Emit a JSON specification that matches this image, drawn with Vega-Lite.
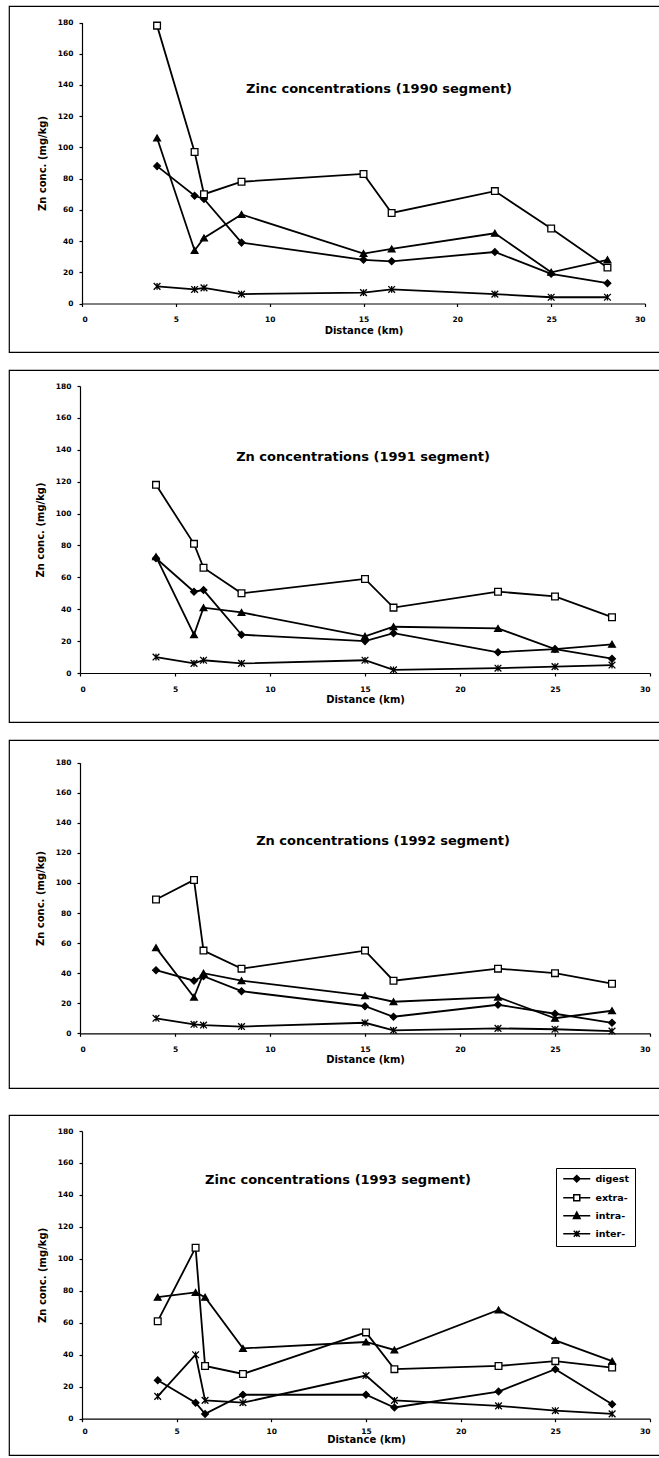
{
  "$schema": "https://vega.github.io/schema/vega-lite/v6.json",
  "background": "white",
  "padding": {"left": 8, "top": 5, "right": 0, "bottom": 0},
  "data": {
    "values": [
      {"year": 1990, "series": "digest", "distance": 4, "zn": 88},
      {"year": 1990, "series": "digest", "distance": 6, "zn": 69},
      {"year": 1990, "series": "digest", "distance": 6.5, "zn": 67},
      {"year": 1990, "series": "digest", "distance": 8.5, "zn": 39},
      {"year": 1990, "series": "digest", "distance": 15, "zn": 28},
      {"year": 1990, "series": "digest", "distance": 16.5, "zn": 27},
      {"year": 1990, "series": "digest", "distance": 22, "zn": 33},
      {"year": 1990, "series": "digest", "distance": 25, "zn": 19},
      {"year": 1990, "series": "digest", "distance": 28, "zn": 13},
      {"year": 1990, "series": "extra-", "distance": 4, "zn": 178},
      {"year": 1990, "series": "extra-", "distance": 6, "zn": 97},
      {"year": 1990, "series": "extra-", "distance": 6.5, "zn": 70},
      {"year": 1990, "series": "extra-", "distance": 8.5, "zn": 78},
      {"year": 1990, "series": "extra-", "distance": 15, "zn": 83},
      {"year": 1990, "series": "extra-", "distance": 16.5, "zn": 58},
      {"year": 1990, "series": "extra-", "distance": 22, "zn": 72},
      {"year": 1990, "series": "extra-", "distance": 25, "zn": 48},
      {"year": 1990, "series": "extra-", "distance": 28, "zn": 23},
      {"year": 1990, "series": "intra-", "distance": 4, "zn": 106},
      {"year": 1990, "series": "intra-", "distance": 6, "zn": 34},
      {"year": 1990, "series": "intra-", "distance": 6.5, "zn": 42},
      {"year": 1990, "series": "intra-", "distance": 8.5, "zn": 57},
      {"year": 1990, "series": "intra-", "distance": 15, "zn": 32},
      {"year": 1990, "series": "intra-", "distance": 16.5, "zn": 35},
      {"year": 1990, "series": "intra-", "distance": 22, "zn": 45},
      {"year": 1990, "series": "intra-", "distance": 25, "zn": 20},
      {"year": 1990, "series": "intra-", "distance": 28, "zn": 28},
      {"year": 1990, "series": "inter-", "distance": 4, "zn": 11},
      {"year": 1990, "series": "inter-", "distance": 6, "zn": 9},
      {"year": 1990, "series": "inter-", "distance": 6.5, "zn": 10},
      {"year": 1990, "series": "inter-", "distance": 8.5, "zn": 6},
      {"year": 1990, "series": "inter-", "distance": 15, "zn": 7},
      {"year": 1990, "series": "inter-", "distance": 16.5, "zn": 9},
      {"year": 1990, "series": "inter-", "distance": 22, "zn": 6},
      {"year": 1990, "series": "inter-", "distance": 25, "zn": 4},
      {"year": 1990, "series": "inter-", "distance": 28, "zn": 4},

      {"year": 1991, "series": "digest", "distance": 4, "zn": 72},
      {"year": 1991, "series": "digest", "distance": 6, "zn": 51},
      {"year": 1991, "series": "digest", "distance": 6.5, "zn": 52},
      {"year": 1991, "series": "digest", "distance": 8.5, "zn": 24},
      {"year": 1991, "series": "digest", "distance": 15, "zn": 20},
      {"year": 1991, "series": "digest", "distance": 16.5, "zn": 25},
      {"year": 1991, "series": "digest", "distance": 22, "zn": 13},
      {"year": 1991, "series": "digest", "distance": 25, "zn": 15},
      {"year": 1991, "series": "digest", "distance": 28, "zn": 9},
      {"year": 1991, "series": "extra-", "distance": 4, "zn": 118},
      {"year": 1991, "series": "extra-", "distance": 6, "zn": 81},
      {"year": 1991, "series": "extra-", "distance": 6.5, "zn": 66},
      {"year": 1991, "series": "extra-", "distance": 8.5, "zn": 50},
      {"year": 1991, "series": "extra-", "distance": 15, "zn": 59},
      {"year": 1991, "series": "extra-", "distance": 16.5, "zn": 41},
      {"year": 1991, "series": "extra-", "distance": 22, "zn": 51},
      {"year": 1991, "series": "extra-", "distance": 25, "zn": 48},
      {"year": 1991, "series": "extra-", "distance": 28, "zn": 35},
      {"year": 1991, "series": "intra-", "distance": 4, "zn": 73},
      {"year": 1991, "series": "intra-", "distance": 6, "zn": 24},
      {"year": 1991, "series": "intra-", "distance": 6.5, "zn": 41},
      {"year": 1991, "series": "intra-", "distance": 8.5, "zn": 38},
      {"year": 1991, "series": "intra-", "distance": 15, "zn": 23},
      {"year": 1991, "series": "intra-", "distance": 16.5, "zn": 29},
      {"year": 1991, "series": "intra-", "distance": 22, "zn": 28},
      {"year": 1991, "series": "intra-", "distance": 25, "zn": 15},
      {"year": 1991, "series": "intra-", "distance": 28, "zn": 18},
      {"year": 1991, "series": "inter-", "distance": 4, "zn": 10},
      {"year": 1991, "series": "inter-", "distance": 6, "zn": 6},
      {"year": 1991, "series": "inter-", "distance": 6.5, "zn": 8},
      {"year": 1991, "series": "inter-", "distance": 8.5, "zn": 6},
      {"year": 1991, "series": "inter-", "distance": 15, "zn": 8},
      {"year": 1991, "series": "inter-", "distance": 16.5, "zn": 2},
      {"year": 1991, "series": "inter-", "distance": 22, "zn": 3},
      {"year": 1991, "series": "inter-", "distance": 25, "zn": 4},
      {"year": 1991, "series": "inter-", "distance": 28, "zn": 5},

      {"year": 1992, "series": "digest", "distance": 4, "zn": 42},
      {"year": 1992, "series": "digest", "distance": 6, "zn": 35},
      {"year": 1992, "series": "digest", "distance": 6.5, "zn": 38},
      {"year": 1992, "series": "digest", "distance": 8.5, "zn": 28},
      {"year": 1992, "series": "digest", "distance": 15, "zn": 18},
      {"year": 1992, "series": "digest", "distance": 16.5, "zn": 11},
      {"year": 1992, "series": "digest", "distance": 22, "zn": 19},
      {"year": 1992, "series": "digest", "distance": 25, "zn": 13},
      {"year": 1992, "series": "digest", "distance": 28, "zn": 7},
      {"year": 1992, "series": "extra-", "distance": 4, "zn": 89},
      {"year": 1992, "series": "extra-", "distance": 6, "zn": 102},
      {"year": 1992, "series": "extra-", "distance": 6.5, "zn": 55},
      {"year": 1992, "series": "extra-", "distance": 8.5, "zn": 43},
      {"year": 1992, "series": "extra-", "distance": 15, "zn": 55},
      {"year": 1992, "series": "extra-", "distance": 16.5, "zn": 35},
      {"year": 1992, "series": "extra-", "distance": 22, "zn": 43},
      {"year": 1992, "series": "extra-", "distance": 25, "zn": 40},
      {"year": 1992, "series": "extra-", "distance": 28, "zn": 33},
      {"year": 1992, "series": "intra-", "distance": 4, "zn": 57},
      {"year": 1992, "series": "intra-", "distance": 6, "zn": 24},
      {"year": 1992, "series": "intra-", "distance": 6.5, "zn": 40},
      {"year": 1992, "series": "intra-", "distance": 8.5, "zn": 35},
      {"year": 1992, "series": "intra-", "distance": 15, "zn": 25},
      {"year": 1992, "series": "intra-", "distance": 16.5, "zn": 21},
      {"year": 1992, "series": "intra-", "distance": 22, "zn": 24},
      {"year": 1992, "series": "intra-", "distance": 25, "zn": 10},
      {"year": 1992, "series": "intra-", "distance": 28, "zn": 15},
      {"year": 1992, "series": "inter-", "distance": 4, "zn": 10},
      {"year": 1992, "series": "inter-", "distance": 6, "zn": 6},
      {"year": 1992, "series": "inter-", "distance": 6.5, "zn": 5.5},
      {"year": 1992, "series": "inter-", "distance": 8.5, "zn": 4.5},
      {"year": 1992, "series": "inter-", "distance": 15, "zn": 7},
      {"year": 1992, "series": "inter-", "distance": 16.5, "zn": 2},
      {"year": 1992, "series": "inter-", "distance": 22, "zn": 3.3},
      {"year": 1992, "series": "inter-", "distance": 25, "zn": 2.7},
      {"year": 1992, "series": "inter-", "distance": 28, "zn": 1.5},

      {"year": 1993, "series": "digest", "distance": 4, "zn": 24},
      {"year": 1993, "series": "digest", "distance": 6, "zn": 10},
      {"year": 1993, "series": "digest", "distance": 6.5, "zn": 3},
      {"year": 1993, "series": "digest", "distance": 8.5, "zn": 15},
      {"year": 1993, "series": "digest", "distance": 15, "zn": 15},
      {"year": 1993, "series": "digest", "distance": 16.5, "zn": 7},
      {"year": 1993, "series": "digest", "distance": 22, "zn": 17},
      {"year": 1993, "series": "digest", "distance": 25, "zn": 31},
      {"year": 1993, "series": "digest", "distance": 28, "zn": 9},
      {"year": 1993, "series": "extra-", "distance": 4, "zn": 61},
      {"year": 1993, "series": "extra-", "distance": 6, "zn": 107},
      {"year": 1993, "series": "extra-", "distance": 6.5, "zn": 33},
      {"year": 1993, "series": "extra-", "distance": 8.5, "zn": 28},
      {"year": 1993, "series": "extra-", "distance": 15, "zn": 54},
      {"year": 1993, "series": "extra-", "distance": 16.5, "zn": 31},
      {"year": 1993, "series": "extra-", "distance": 22, "zn": 33},
      {"year": 1993, "series": "extra-", "distance": 25, "zn": 36},
      {"year": 1993, "series": "extra-", "distance": 28, "zn": 32},
      {"year": 1993, "series": "intra-", "distance": 4, "zn": 76},
      {"year": 1993, "series": "intra-", "distance": 6, "zn": 79},
      {"year": 1993, "series": "intra-", "distance": 6.5, "zn": 76},
      {"year": 1993, "series": "intra-", "distance": 8.5, "zn": 44},
      {"year": 1993, "series": "intra-", "distance": 15, "zn": 48},
      {"year": 1993, "series": "intra-", "distance": 16.5, "zn": 43},
      {"year": 1993, "series": "intra-", "distance": 22, "zn": 68},
      {"year": 1993, "series": "intra-", "distance": 25, "zn": 49},
      {"year": 1993, "series": "intra-", "distance": 28, "zn": 36},
      {"year": 1993, "series": "inter-", "distance": 4, "zn": 14},
      {"year": 1993, "series": "inter-", "distance": 6, "zn": 40},
      {"year": 1993, "series": "inter-", "distance": 6.5, "zn": 11.5},
      {"year": 1993, "series": "inter-", "distance": 8.5, "zn": 10},
      {"year": 1993, "series": "inter-", "distance": 15, "zn": 27},
      {"year": 1993, "series": "inter-", "distance": 16.5, "zn": 11.5},
      {"year": 1993, "series": "inter-", "distance": 22, "zn": 8},
      {"year": 1993, "series": "inter-", "distance": 25, "zn": 5},
      {"year": 1993, "series": "inter-", "distance": 28, "zn": 3}
    ]
  },
  "spacing": 25,
  "resolve": {
    "scale": {"shape": "independent", "color": "independent"},
    "legend": {"shape": "independent", "color": "independent"}
  },
  "vconcat": [
    {
      "spacing": 16,
      "resolve": {
        "scale": {"shape": "independent", "color": "independent"},
        "legend": {"shape": "independent", "color": "independent"}
      },
      "vconcat": [
        {
          "width": 652,
          "height": 346,
          "title": {"text": "Zinc concentrations (1990 segment)", "offset": -90, "dx": 44},
          "transform": [{"filter": "datum.year === 1990"}],
          "encoding": {
            "x": {"field": "distance", "type": "quantitative",
              "scale": {"domain": [0, 30], "range": [73, 636], "nice": false, "zero": false},
              "axis": {"title": "Distance (km)", "offset": -48.5, "values": [0, 5, 10, 15, 20, 25, 30], "labelPadding": 9, "titlePadding": 2}},
            "y": {"field": "zn", "type": "quantitative",
              "scale": {"domain": [0, 180], "range": [297.5, 16.5], "nice": false, "zero": false},
              "axis": {"title": "Zn conc. (mg/kg)", "offset": -73, "values": [0, 20, 40, 60, 80, 100, 120, 140, 160, 180]}}
          },
          "layer": [
            {"mark": {"type": "line", "color": "black", "strokeWidth": 1.8}, "encoding": {"detail": {"field": "series"}}},
            {"mark": {"type": "point", "filled": true, "opacity": 1, "size": 45, "stroke": "black", "strokeWidth": 1.3},
              "encoding": {
                "shape": {"field": "series", "type": "nominal", "legend": null,
                  "scale": {"range": ["diamond", "square", "M-1,-1L1,1M-1,1L1,-1M0,-1L0,1", "triangle-up"]}},
                "color": {"field": "series", "type": "nominal", "legend": null,
                  "scale": {"domain": ["digest", "extra-", "intra-", "inter-"], "range": ["black", "white", "black", "transparent"]}}
              }}
          ]
        },
        {
          "width": 652,
          "height": 352,
          "title": {"text": "Zn concentrations (1991 segment)", "offset": -94, "dx": 28},
          "transform": [{"filter": "datum.year === 1991"}],
          "encoding": {
            "x": {"field": "distance", "type": "quantitative",
              "scale": {"domain": [0, 30], "range": [71, 641], "nice": false, "zero": false},
              "axis": {"title": "Distance (km)", "offset": -49, "values": [0, 5, 10, 15, 20, 25, 30], "labelPadding": 9, "titlePadding": 2}},
            "y": {"field": "zn", "type": "quantitative",
              "scale": {"domain": [0, 180], "range": [303, 16], "nice": false, "zero": false},
              "axis": {"title": "Zn conc. (mg/kg)", "offset": -71, "values": [0, 20, 40, 60, 80, 100, 120, 140, 160, 180]}}
          },
          "layer": [
            {"mark": {"type": "line", "color": "black", "strokeWidth": 1.8}, "encoding": {"detail": {"field": "series"}}},
            {"mark": {"type": "point", "filled": true, "opacity": 1, "size": 45, "stroke": "black", "strokeWidth": 1.3},
              "encoding": {
                "shape": {"field": "series", "type": "nominal", "legend": null,
                  "scale": {"range": ["diamond", "square", "M-1,-1L1,1M-1,1L1,-1M0,-1L0,1", "triangle-up"]}},
                "color": {"field": "series", "type": "nominal", "legend": null,
                  "scale": {"domain": ["digest", "extra-", "intra-", "inter-"], "range": ["black", "white", "black", "transparent"]}}
              }}
          ]
        },
        {
          "width": 652,
          "height": 348,
          "title": {"text": "Zn concentrations (1992 segment)", "offset": -108, "dx": 48},
          "transform": [{"filter": "datum.year === 1992"}],
          "encoding": {
            "x": {"field": "distance", "type": "quantitative",
              "scale": {"domain": [0, 30], "range": [71, 641], "nice": false, "zero": false},
              "axis": {"title": "Distance (km)", "offset": -54.7, "values": [0, 5, 10, 15, 20, 25, 30], "labelPadding": 9, "titlePadding": 2}},
            "y": {"field": "zn", "type": "quantitative",
              "scale": {"domain": [0, 180], "range": [293.3, 22.7], "nice": false, "zero": false},
              "axis": {"title": "Zn conc. (mg/kg)", "offset": -71, "values": [0, 20, 40, 60, 80, 100, 120, 140, 160, 180]}}
          },
          "layer": [
            {"mark": {"type": "line", "color": "black", "strokeWidth": 1.8}, "encoding": {"detail": {"field": "series"}}},
            {"mark": {"type": "point", "filled": true, "opacity": 1, "size": 45, "stroke": "black", "strokeWidth": 1.3},
              "encoding": {
                "shape": {"field": "series", "type": "nominal", "legend": null,
                  "scale": {"range": ["diamond", "square", "M-1,-1L1,1M-1,1L1,-1M0,-1L0,1", "triangle-up"]}},
                "color": {"field": "series", "type": "nominal", "legend": null,
                  "scale": {"domain": ["digest", "extra-", "intra-", "inter-"], "range": ["black", "white", "black", "transparent"]}}
              }}
          ]
        }
      ]
    },
    {
      "width": 652,
      "height": 340,
      "title": {"text": "Zinc concentrations (1993 segment)", "offset": -72, "dx": 3},
      "transform": [{"filter": "datum.year === 1993"}],
      "encoding": {
        "x": {"field": "distance", "type": "quantitative",
          "scale": {"domain": [0, 30], "range": [73, 641], "nice": false, "zero": false},
          "axis": {"title": "Distance (km)", "offset": -36.3, "values": [0, 5, 10, 15, 20, 25, 30], "labelPadding": 5.5, "titlePadding": 0}},
        "y": {"field": "zn", "type": "quantitative",
          "scale": {"domain": [0, 180], "range": [303.7, 16], "nice": false, "zero": false},
          "axis": {"title": "Zn conc. (mg/kg)", "offset": -73, "values": [0, 20, 40, 60, 80, 100, 120, 140, 160, 180]}}
      },
      "layer": [
        {"mark": {"type": "line", "color": "black", "strokeWidth": 1.8}, "encoding": {"detail": {"field": "series"}}},
        {"mark": {"type": "point", "filled": true, "opacity": 1, "size": 45, "stroke": "black", "strokeWidth": 1.3},
          "encoding": {
            "shape": {"field": "series", "type": "nominal", "legend": null,
              "scale": {"range": ["diamond", "square", "M-1,-1L1,1M-1,1L1,-1M0,-1L0,1", "triangle-up"]}},
            "color": {"field": "series", "type": "nominal",
              "scale": {"domain": ["digest", "extra-", "intra-", "inter-"], "range": ["black", "white", "black", "transparent"]},
              "legend": {
                "orient": "none", "legendX": 547, "legendY": 53, "title": null,
                "strokeColor": "black", "fillColor": "white", "padding": 6,
                "symbolSize": 36, "symbolOffset": 10, "labelOffset": 14,
                "symbolStrokeColor": "black", "symbolStrokeWidth": 1.5,
                "symbolType": {"expr": "datum.value === 'digest' ? 'M-4.5,0H4.5M0,-1.1L1.1,0L0,1.1L-1.1,0Z' : datum.value === 'extra-' ? 'M-4.5,0H-1M1,0H4.5M-1,-1H1V1H-1Z' : datum.value === 'intra-' ? 'M-4.5,0H4.5M0,-1.2L1.1,0.9H-1.1Z' : 'M-4.5,0H4.5M-1,-1L1,1M-1,1L1,-1M0,-1V1'"},
                "labelFont": "DejaVu Sans", "labelFontWeight": "bold", "labelFontSize": 9.5, "labelColor": "black",
                "rowPadding": 5
              }}
          }}
      ]
    }
  ],
  "config": {
    "view": {"stroke": "black", "strokeWidth": 1.2},
    "font": "DejaVu Sans",
    "title": {"font": "DejaVu Sans", "fontSize": 13, "fontWeight": "bold", "color": "black", "anchor": "middle", "baseline": "middle"},
    "axis": {
      "grid": false,
      "domainColor": "black", "domainWidth": 1.2,
      "tickColor": "black", "tickSize": 3, "tickWidth": 1.2,
      "labelFont": "DejaVu Sans", "labelFontWeight": "bold", "labelFontSize": 7.5, "labelColor": "black",
      "labelPadding": 6, "labelOverlap": false,
      "titleFont": "DejaVu Sans", "titleFontWeight": "bold", "titleFontSize": 10, "titleColor": "black",
      "titlePadding": 10
    },
    "axisY": {"labelPadding": 6, "titlePadding": 10}
  }
}
